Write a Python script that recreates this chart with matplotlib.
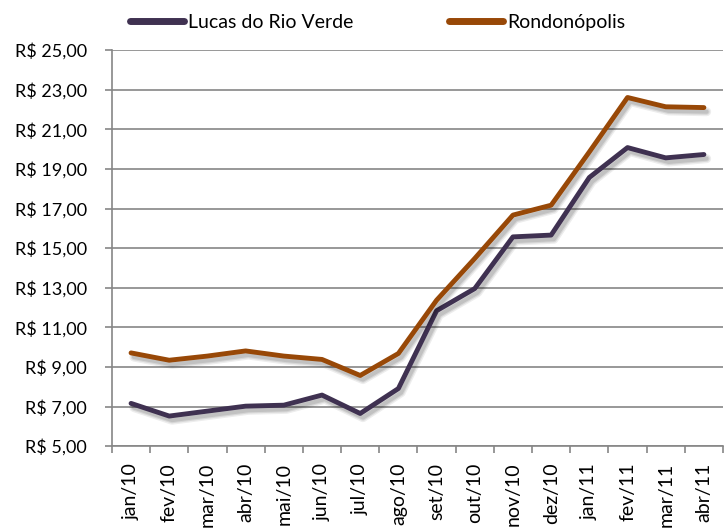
import matplotlib
matplotlib.use("Agg")
import matplotlib.pyplot as plt
import matplotlib.patheffects as pe
import numpy as np

meses = ["jan/10", "fev/10", "mar/10", "abr/10", "mai/10", "jun/10", "jul/10", "ago/10",
         "set/10", "out/10", "nov/10", "dez/10", "jan/11", "fev/11", "mar/11", "abr/11"]
lucas = [7.16, 6.52, 6.77, 7.02, 7.07, 7.58, 6.65, 7.91,
         11.84, 12.96, 15.57, 15.66, 18.57, 20.08, 19.56, 19.73]
rondon = [9.71, 9.34, 9.55, 9.81, 9.55, 9.38, 8.57, 9.68,
          12.37, 14.48, 16.67, 17.17, 19.86, 22.61, 22.14, 22.10]
yticks = np.arange(5, 26, 2)

plt.rcParams['font.family'] = ['Lato', 'DejaVu Sans']
grid_c = '#868686'

fig = plt.figure(figsize=(7.27, 5.28), dpi=100)
ax = fig.add_axes([0.154, 0.155, 0.8405, 0.75])

x = np.arange(len(meses))
# soft drop shadow, built from a few faint offset copies
shadow = [pe.SimpleLineShadow(offset=(2, -3), shadow_color='k', alpha=0.07, linewidth=6.5),
          pe.SimpleLineShadow(offset=(2, -3), shadow_color='k', alpha=0.09, linewidth=4.5),
          pe.SimpleLineShadow(offset=(2, -3), shadow_color='k', alpha=0.10, linewidth=2.8),
          pe.Normal()]
ax.plot(x, lucas, color='#3f3151', lw=3.5, solid_joinstyle='round', solid_capstyle='round',
        path_effects=shadow, label='Lucas do Rio Verde', zorder=3)
ax.plot(x, rondon, color='#984807', lw=3.5, solid_joinstyle='round', solid_capstyle='round',
        path_effects=shadow, label='Rondonópolis', zorder=3)

ax.set_xlim(-0.5, len(meses) - 0.5)
ax.set_ylim(5, 25)
ax.set_yticks(yticks)
ax.set_yticklabels(['R$ %d,00' % v for v in yticks], fontsize=13)
ax.yaxis.grid(True, color=grid_c, lw=1.2)
ax.set_axisbelow(True)

ax.set_xticks(x)
ax.set_xticklabels(meses, rotation=90, fontsize=14)
ax.set_xticks(np.arange(-0.5, len(meses), 1), minor=True)
ax.tick_params(axis='x', which='major', length=0, pad=12)
ax.tick_params(axis='x', which='minor', length=5, color=grid_c, width=1.2)
ax.tick_params(axis='y', length=5, color=grid_c, width=1.2, pad=13)

for s in ['top', 'right']:
    ax.spines[s].set_visible(False)
for s in ['left', 'bottom']:
    ax.spines[s].set_color(grid_c)
    ax.spines[s].set_linewidth(1.2)

leg = fig.legend(loc='center', bbox_to_anchor=(0.519, 0.958), ncol=2, frameon=False,
                 fontsize=14, handlelength=2.8, handletextpad=0.2, columnspacing=4.9)
for h in leg.get_lines():
    h.set_linewidth(5)
    h.set_solid_capstyle('round')
    h.set_path_effects([])

fig.savefig('out.png', dpi=100)
